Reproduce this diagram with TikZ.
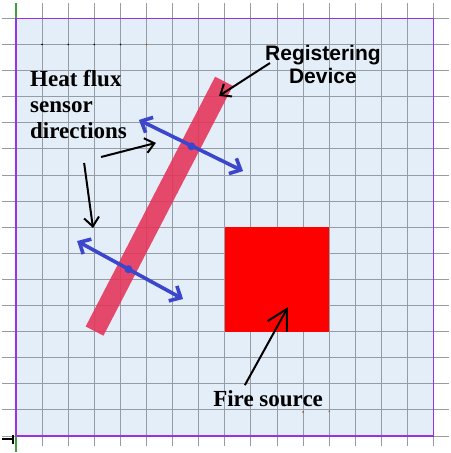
\documentclass[tikz,border=0pt]{standalone}
\usepackage{fontspec}
\setmainfont{Liberation Serif}
\newfontfamily\arialfont{Liberation Sans}
\usetikzlibrary{arrows.meta}
\definecolor{cellblue}{RGB}{228,238,248}
\definecolor{gridgray}{RGB}{150,156,164}
\definecolor{framepurple}{RGB}{150,50,235}
\definecolor{devicered}{RGB}{228,50,88}
\definecolor{sensorblue}{RGB}{60,70,205}
\definecolor{markgreen}{RGB}{60,160,60}
\definecolor{markbrown}{RGB}{160,90,40}
\tikzset{
  sensorline/.style={draw=sensorblue,line width=3.6pt,{Straight Barb[length=9pt,width=17pt]}-{Straight Barb[length=9pt,width=17pt]}},
  sensordot/.style={circle,fill=sensorblue,inner sep=0pt,minimum size=8pt},
  pointer/.style={draw=black,line width=2pt,-{Straight Barb[length=9pt,width=15pt]}},
  bigpointer/.style={draw=black,line width=2pt,-{Straight Barb[length=20pt,width=22pt]}},
  serifbold/.style={font=\bfseries\fontsize{23}{26}\selectfont,inner sep=0pt},
  sansbold/.style={font=\arialfont\bfseries\fontsize{21}{23}\selectfont,inner sep=0pt}
}
\begin{document}
\begin{tikzpicture}[x=26.1pt,y=26.1pt]
\useasboundingbox (-0.613,-0.651) rectangle (16.63,16.705);
\fill[cellblue] (0,0) rectangle (16,16);
\foreach \i in {0,...,16}{
  \draw[gridgray,line width=1pt] (\i,-0.4)--(\i,16.59);
  \draw[gridgray,line width=1pt] (-0.54,\i)--(16.59,\i);
}
\draw[framepurple,line width=1.5pt] (0,0) rectangle (16,16);
\draw[markgreen,line width=1.2pt] (0,16)--(0,16.59);
\draw[markgreen,line width=1.2pt] (0,0)--(0,-0.61);
\draw[line width=1.2pt] (-0.54,-0.115)--(-0.115,-0.115) (-0.115,0.04)--(-0.115,-0.31);
\foreach \i in {1,...,4} \fill (\i,15) circle (0.9pt);
\fill[markbrown] (5,15) circle (0.9pt);
\fill[markbrown] (11,0.92) circle (0.9pt);
\fill[markbrown] (12,0.95) circle (0.9pt);

\node[fill=red,inner sep=0pt,minimum size=104.4pt] (firebox) at (10,6) {};

\coordinate (barlow) at (3.01,4.02);
\coordinate (bartop) at (7.97,13.59);
\draw[devicered,opacity=0.88,line width=20pt] (barlow)--(bartop);

\coordinate (s1a) at (4.71,12.11);
\coordinate (s1b) at (8.70,10.15);
\coordinate (s2a) at (2.34,7.47);
\coordinate (s2b) at (6.40,5.25);
\draw[sensorline] (s1a)--(s1b);
\draw[sensorline] (s2a)--(s2b);
\node[sensordot] (dot1) at (6.72,11.1) {};
\node[sensordot] (dot2) at (4.31,6.39) {};

\node[serifbold,anchor=north west,align=left] (heat) at (0.536,14.02) {Heat flux\\sensor\\directions};
\node[sansbold,anchor=north,align=center] (device) at (11.76,14.98) {Registering\\Device};
\node[serifbold,anchor=base west] (fire) at (7.55,1.12) {Fire source};

\coordinate (p1) at (9.73,14.29);
\coordinate (p1tip) at (7.78,13.03);
\coordinate (p2) at (3.26,10.69);
\coordinate (p2tip) at (5.36,11.23);
\coordinate (p3) at (2.61,10.46);
\coordinate (p3tip) at (2.95,7.97);
\coordinate (p4) at (8.77,1.95);
\coordinate (p4tip) at (10.42,4.94);
\draw[pointer] (p1)--(p1tip);
\draw[pointer] (p2)--(p2tip);
\draw[pointer] (p3)--(p3tip);
\draw[bigpointer] (p4)--(p4tip);
\end{tikzpicture}
\end{document}
